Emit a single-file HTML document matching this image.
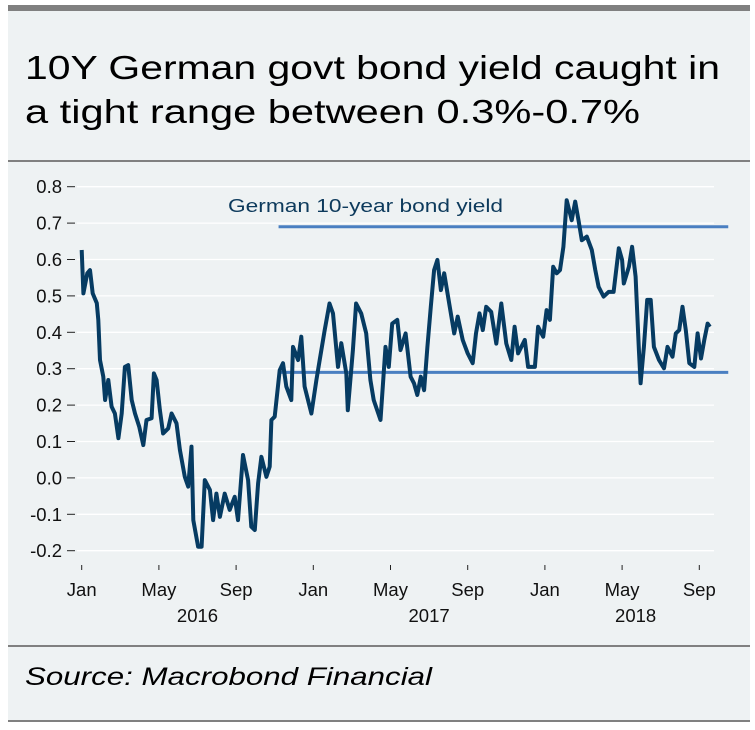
<!DOCTYPE html>
<html><head><meta charset="utf-8"><style>
html,body{margin:0;padding:0;background:#fff;}
svg{display:block;font-family:"Liberation Sans",sans-serif;}
</style></head><body>
<svg width="755" height="730" viewBox="0 0 755 730">
<rect x="8" y="7" width="742" height="715" fill="#eef2f3"/>
<rect x="8" y="5" width="742" height="6" fill="#808080"/>
<text x="25" y="79" font-size="33" fill="#000" textLength="695" lengthAdjust="spacingAndGlyphs">10Y German govt bond yield caught in</text>
<text x="25" y="123" font-size="33" fill="#000" textLength="615" lengthAdjust="spacingAndGlyphs">a tight range between 0.3%-0.7%</text>
<rect x="8" y="160" width="742" height="2" fill="#808080"/>
<g id="plot"></g>
<rect x="8" y="645" width="742" height="2" fill="#808080"/>
<text x="25" y="685" font-size="25" font-style="italic" fill="#000" textLength="407" lengthAdjust="spacingAndGlyphs">Source: Macrobond Financial</text>
<rect x="8" y="720" width="742" height="2" fill="#808080"/>
</svg>
<script>
const yTicks = [0.8,0.7,0.6,0.5,0.4,0.3,0.2,0.1,0.0,-0.1,-0.2];
const yTickLabels = ["0.8","0.7","0.6","0.5","0.4","0.3","0.2","0.1","0.0","-0.1","-0.2"];
const xTickMonths = [0,4,8,12,16,20,24,28,32];
const xTickLabels = ["Jan","May","Sep","Jan","May","Sep","Jan","May","Sep"];
const yearLabels = ["2016","2017","2018"];
const yearMonths = [6,18,28.7];
const levelValues = [0.69,0.29];
const levelStart = [10.2,10.2];
const levelEnd = [33.5,33.5];
const months = [0,0.09,0.29,0.43,0.57,0.78,0.86,0.95,1.12,1.21,1.38,1.55,1.72,1.9,2.07,2.24,2.41,2.59,2.76,2.98,3.19,3.36,3.62,3.74,3.88,4.05,4.22,4.48,4.66,4.91,5.09,5.34,5.52,5.69,5.78,6.03,6.21,6.38,6.64,6.81,6.98,7.16,7.41,7.67,7.93,8.1,8.36,8.62,8.79,8.97,9.14,9.31,9.57,9.74,9.83,10.0,10.26,10.43,10.6,10.86,10.95,11.21,11.38,11.55,11.9,12.16,12.33,12.59,12.84,13.02,13.28,13.45,13.71,13.79,14.05,14.22,14.48,14.74,14.96,15.13,15.48,15.74,15.91,16.09,16.35,16.52,16.78,17.04,17.22,17.39,17.57,17.74,17.91,18.09,18.26,18.43,18.61,18.78,19.04,19.3,19.48,19.74,20.0,20.26,20.43,20.61,20.78,20.96,21.22,21.48,21.74,22.0,22.26,22.43,22.61,22.96,23.13,23.48,23.65,23.91,24.09,24.26,24.43,24.61,24.78,24.96,25.13,25.39,25.57,25.74,25.91,26.17,26.43,26.61,26.78,27.04,27.3,27.56,27.83,28.0,28.09,28.35,28.52,28.7,28.87,28.96,29.13,29.3,29.48,29.65,29.91,30.17,30.35,30.61,30.78,30.96,31.13,31.3,31.48,31.74,31.91,32.09,32.26,32.43,32.55];
const yields = [0.626,0.507,0.562,0.571,0.507,0.48,0.434,0.324,0.278,0.214,0.269,0.196,0.177,0.109,0.177,0.305,0.31,0.214,0.177,0.141,0.09,0.159,0.164,0.287,0.269,0.186,0.122,0.136,0.177,0.15,0.077,0.003,-0.024,0.086,-0.116,-0.189,-0.189,-0.006,-0.033,-0.116,-0.043,-0.107,-0.043,-0.088,-0.052,-0.116,0.063,-0.006,-0.134,-0.143,-0.015,0.058,0.003,0.031,0.159,0.168,0.296,0.315,0.251,0.214,0.36,0.324,0.388,0.251,0.177,0.269,0.324,0.406,0.479,0.452,0.305,0.37,0.287,0.186,0.351,0.479,0.452,0.397,0.269,0.214,0.159,0.36,0.305,0.424,0.434,0.351,0.397,0.278,0.26,0.228,0.278,0.241,0.36,0.47,0.571,0.599,0.516,0.562,0.479,0.397,0.443,0.379,0.342,0.315,0.397,0.452,0.406,0.47,0.456,0.369,0.479,0.369,0.324,0.415,0.342,0.379,0.305,0.305,0.415,0.388,0.461,0.434,0.58,0.562,0.571,0.635,0.763,0.708,0.759,0.708,0.653,0.663,0.626,0.571,0.525,0.498,0.511,0.511,0.631,0.599,0.534,0.58,0.635,0.553,0.351,0.26,0.36,0.489,0.489,0.36,0.324,0.301,0.36,0.333,0.397,0.406,0.47,0.406,0.315,0.305,0.397,0.328,0.379,0.424,0.415];

const NS = "http://www.w3.org/2000/svg";
const plot = document.getElementById('plot');
const xScale = m => 81.7 + m * 19.3;
const yScale = v => 186.7 + (0.8 - v) * 364;
function mk(tag, attrs, parent) {
  const e = document.createElementNS(NS, tag);
  for (const k in attrs) e.setAttribute(k, attrs[k]);
  (parent || plot).appendChild(e);
  return e;
}
yTicks.forEach((v, i) => {
  const g = mk('line', {x1: 77, x2: 714, y1: yScale(v), y2: yScale(v), stroke: '#ffffff', 'stroke-width': 1.3});
  
  
  const t = mk('line', {x1: 67, x2: 75, y1: yScale(v), y2: yScale(v), stroke: '#222', 'stroke-width': 1});
  
  
  const l = mk('text', {x: 62, y: yScale(v) + 6.5, 'font-size': 18.5, 'text-anchor': 'end', fill: '#111'});
  l.textContent = yTickLabels[i];
  
  
});
xTickMonths.forEach((m, i) => {
  const t = mk('line', {x1: xScale(m), x2: xScale(m), y1: 565, y2: 570, stroke: '#222', 'stroke-width': 1});
  
  
  const l = mk('text', {x: xScale(m), y: 596, 'font-size': 18.5, 'text-anchor': 'middle', fill: '#111'});
  l.textContent = xTickLabels[i];
  
  
});
yearLabels.forEach((y, i) => {
  const l = mk('text', {x: xScale(yearMonths[i]), y: 622, 'font-size': 18.5, 'text-anchor': 'middle', fill: '#111'});
  l.textContent = y;
  
  
});
levelValues.forEach((v, i) => {
  const l = mk('line', {x1: xScale(levelStart[i]), x2: xScale(levelEnd[i]), y1: yScale(v), y2: yScale(v), stroke: '#4a7fc1', 'stroke-width': 3});
  
  
});
const lab = mk('text', {x: 228, y: 212, 'font-size': 18, fill: '#0d3a5c', textLength: 275, lengthAdjust: 'spacingAndGlyphs'});
lab.textContent = 'German 10-year bond yield';


const pts = months.map((m, i) => xScale(m).toFixed(1) + ',' + yScale(yields[i]).toFixed(1)).join(' ');
const line = mk('polyline', {points: pts, fill: 'none', stroke: '#063b62', 'stroke-width': 4, 'stroke-linejoin': 'round'});


</script>
</body></html>
